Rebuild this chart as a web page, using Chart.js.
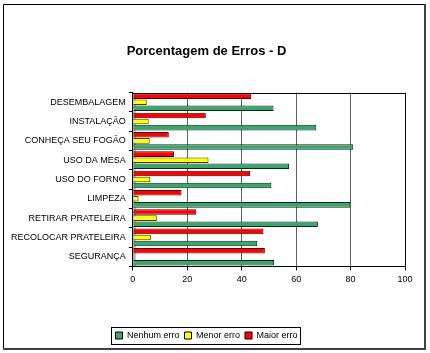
<!DOCTYPE html>
<html><head><meta charset="utf-8">
<script src="https://cdn.jsdelivr.net/npm/chart.js@4/dist/chart.umd.min.js"></script>
<style>html,body{margin:0;padding:0;background:#fff}#c{display:block}</style>
</head><body>
<canvas id="c" width="430" height="353"></canvas>
<script>
const categories = ["DESEMBALAGEM","INSTALAÇÃO","CONHEÇA SEU FOGÃO","USO DA MESA","USO DO FORNO","LIMPEZA","RETIRAR PRATELEIRA","RECOLOCAR PRATELEIRA","SEGURANÇA"];
const nenhumErro = [51.7, 67.4, 81.0, 57.4, 50.9, 79.9, 68.0, 45.7, 51.9];
const menorErro  = [5.1, 5.8, 6.2, 27.8, 6.4, 2.1, 8.8, 6.6, 0.5];
const maiorErro  = [43.5, 26.8, 13.2, 15.1, 43.1, 17.9, 23.3, 48.0, 48.5];
const xTicks = [0, 20, 40, 60, 80, 100];

const framePlugin = {
  id: 'frame',
  beforeDraw(chart) {
    const ctx = chart.ctx;
    ctx.save();
    ctx.fillStyle = '#fff';
    ctx.fillRect(0, 0, chart.width, chart.height);
    ctx.strokeStyle = '#000';
    ctx.lineWidth = 1;
    ctx.beginPath();
    ctx.moveTo(3.5, 348.5); ctx.lineTo(3.5, 4.5); ctx.lineTo(424.5, 4.5);
    ctx.stroke();
    ctx.strokeStyle = '#404040';
    ctx.lineWidth = 2;
    ctx.beginPath();
    ctx.moveTo(425, 4); ctx.lineTo(425, 349); ctx.lineTo(3, 349);
    ctx.stroke();
    const a = chart.chartArea;
    ctx.fillStyle = '#c0c0c0';
    ctx.fillRect(a.left, a.top, 3, a.bottom - a.top);
    ctx.restore();
  },
  afterDraw(chart) {
    const ctx = chart.ctx;
    const a = chart.chartArea;
    ctx.save();
    ctx.strokeStyle = '#000';
    ctx.lineWidth = 1;
    ctx.beginPath();
    ctx.moveTo(a.left, Math.round(a.top) + 0.5);
    ctx.lineTo(Math.round(a.right) + 0.5, Math.round(a.top) + 0.5);
    ctx.lineTo(Math.round(a.right) + 0.5, a.bottom);
    ctx.stroke();
    const lg = chart.legend;
    if (lg && lg.legendHitBoxes && lg.legendHitBoxes.length) {
      const hb = lg.legendHitBoxes;
      const l = hb[0].left - 4, r = hb[hb.length - 1].left + hb[hb.length - 1].width + 3;
      const t = hb[0].top - 4, b = hb[0].top + hb[0].height + 4;
      ctx.strokeStyle = '#000';
      ctx.strokeRect(Math.round(l) + 0.5, Math.round(t) + 0.5, Math.round(r - l), Math.round(b - t));
    }
    ctx.restore();
  }
};

new Chart(document.getElementById('c'), {
  type: 'bar',
  data: {
    labels: categories,
    datasets: [
      { label: 'Maior erro', data: maiorErro, backgroundColor: '#FF0000', borderColor: '#400000', borderWidth: 1 },
      { label: 'Menor erro', data: menorErro, backgroundColor: '#FFFF00', borderColor: '#404000', borderWidth: 1 },
      { label: 'Nenhum erro', data: nenhumErro, backgroundColor: '#3CA46C', borderColor: '#0A2A18', borderWidth: 1 }
    ]
  },
  options: {
    indexAxis: 'y',
    responsive: false,
    animation: false,
    devicePixelRatio: 1,
    layout: { padding: { top: 10, left: 8, right: 25, bottom: 3 } },
    datasets: { bar: { categoryPercentage: 0.94, barPercentage: 0.92 } },
    scales: {
      x: {
        min: 0, max: 100,
        afterBuildTicks(scale) { scale.ticks = xTicks.map(v => ({ value: v })); },
        ticks: { color: '#000', font: { family: 'Liberation Sans, Arial', size: 9 }, padding: 4 },
        grid: { color: (c) => (c.tick && c.tick.value === 0) ? 'rgba(0,0,0,0)' : '#606060', tickColor: '#000', tickLength: 4, lineWidth: 1 },
        border: { color: '#000' },
        title: { display: true, text: ' ', font: { size: 9 }, padding: { top: 13, bottom: 13 } }
      },
      y: {
        ticks: { color: '#000', font: { family: 'Liberation Sans, Arial', size: 9 }, padding: 3, autoSkip: false },
        grid: { drawOnChartArea: false, tickColor: '#000', tickLength: 4, offset: true },
        border: { color: '#000' }
      }
    },
    plugins: {
      title: {
        display: true,
        text: 'Porcentagem de Erros - D',
        color: '#000',
        font: { family: 'Liberation Sans, Arial', size: 13, weight: 'bold' },
        padding: { top: 34, bottom: 33 }
      },
      legend: {
        position: 'bottom',
        reverse: true,
        labels: {
          color: '#000',
          font: { family: 'Liberation Sans, Arial', size: 9 },
          boxWidth: 7, boxHeight: 7, padding: 5,
          generateLabels(chart) {
            return chart.data.datasets.map((d, i) => ({
              text: d.label, fillStyle: d.backgroundColor, strokeStyle: '#000', lineWidth: 1,
              hidden: false, datasetIndex: i, fontColor: '#000'
            }));
          }
        }
      },
      tooltip: { enabled: false }
    }
  },
  plugins: [framePlugin]
});
</script>
</body></html>
